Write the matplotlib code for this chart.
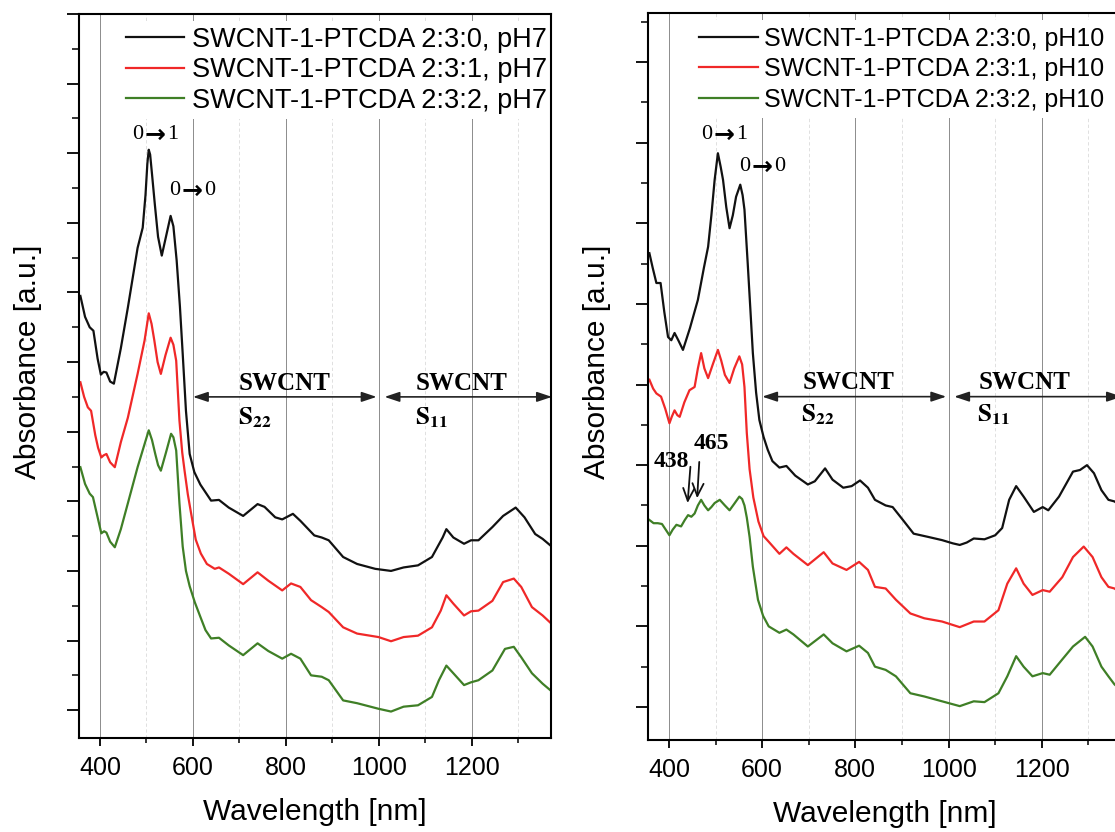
import numpy as np
import matplotlib
matplotlib.use("Agg")
import matplotlib.pyplot as plt
from matplotlib.ticker import MultipleLocator

plt.rcParams['font.family'] = ['Liberation Sans', 'DejaVu Sans']
plt.rcParams['mathtext.fontset'] = 'stix'

# ---- data (wavelength nm, absorbance a.u. offset) ----
wl_b7 = [358, 368, 378, 386, 395, 402, 408, 414, 422, 430, 445, 460, 481, 492, 498, 502, 505, 508, 512, 518, 525, 533,
         542, 552, 558, 565, 572, 578, 585, 593, 603, 616, 639, 656, 677, 708, 739, 754, 777, 792, 815, 831,
         861, 877, 892, 923, 953, 992, 1026, 1053, 1084, 1114, 1137, 1145, 1160, 1183, 1198, 1214, 1244, 1267,
         1294, 1313, 1336, 1352, 1368]
ab_b7 = [5.95, 5.65, 5.50, 5.45, 5.05, 4.82, 4.86, 4.85, 4.72, 4.69, 5.20, 5.78, 6.64, 6.93, 7.40, 7.85, 8.05, 7.98, 7.70, 7.27, 6.80, 6.53,
         6.80, 7.10, 6.95, 6.46, 5.80, 5.12, 4.30, 3.68, 3.42, 3.24, 3.01, 3.02, 2.91, 2.79, 2.96, 2.92, 2.77, 2.74, 2.82, 2.72,
         2.51, 2.48, 2.44, 2.20, 2.10, 2.03, 2.00, 2.05, 2.08, 2.20, 2.48, 2.60, 2.48, 2.39, 2.44, 2.44, 2.63, 2.79,
         2.91, 2.77, 2.53, 2.46, 2.37]

wl_r7 = [358, 366, 374, 381, 390, 396, 403, 408, 414, 422, 432, 445, 460, 481, 496, 505, 511, 517, 524, 531,
         541, 552, 558, 564, 571, 577, 582, 589, 596, 606, 617, 630, 647, 656, 677, 708, 739, 762, 792, 811,
         831, 854, 877, 892, 923, 953, 999, 1026, 1053, 1084, 1114, 1133, 1145, 1160, 1183, 1198, 1214, 1244,
         1267, 1290, 1306, 1329, 1352, 1368]
ab_r7 = [4.71, 4.50, 4.35, 4.30, 3.95, 3.77, 3.63, 3.66, 3.68, 3.56, 3.49, 3.85, 4.20, 4.83, 5.31, 5.70, 5.55, 5.31, 5.00, 4.83,
         5.10, 5.35, 5.25, 5.02, 4.16, 3.70, 3.44, 3.10, 2.83, 2.45, 2.25, 2.10, 2.03, 2.05, 1.96, 1.81, 1.98, 1.86, 1.72, 1.82,
         1.77, 1.58, 1.48, 1.41, 1.19, 1.10, 1.05, 0.99, 1.05, 1.07, 1.19, 1.43, 1.65, 1.53, 1.36, 1.42, 1.43, 1.57,
         1.84, 1.89, 1.77, 1.48, 1.36, 1.26]

wl_g7 = [358, 368, 378, 385, 394, 403, 409, 414, 422, 432, 445, 460, 481, 495, 505, 512, 519, 525, 531, 542,
         553, 558, 564, 571, 578, 585, 593, 604, 616, 627, 639, 656, 677, 708, 739, 762, 792, 811, 831, 854,
         877, 892, 923, 953, 999, 1026, 1053, 1084, 1114, 1129, 1145, 1160, 1183, 1198, 1214, 1244, 1271, 1290,
         1306, 1329, 1352, 1368]
ab_g7 = [3.49, 3.25, 3.11, 3.06, 2.80, 2.54, 2.57, 2.55, 2.42, 2.34, 2.60, 2.97, 3.49, 3.80, 4.02, 3.88, 3.68, 3.52, 3.44, 3.70,
         3.97, 3.92, 3.73, 2.97, 2.35, 2.00, 1.78, 1.55, 1.34, 1.15, 1.03, 1.04, 0.93, 0.79, 0.96, 0.85, 0.74, 0.81, 0.74, 0.50,
         0.48, 0.43, 0.14, 0.10, 0.02, -0.02, 0.05, 0.07, 0.19, 0.43, 0.64, 0.53, 0.36, 0.40, 0.43, 0.57, 0.88, 0.91,
         0.76, 0.53, 0.38, 0.29]

wl_b10 = [358, 365, 373, 382, 390, 398, 405, 412, 420, 430, 445, 462, 475, 484, 491, 498, 505, 511, 516, 523,
          530, 537, 544, 553, 558, 562, 569, 575, 580, 587, 594, 603, 612, 622, 637, 652, 671, 698, 713, 735,
          751, 774, 792, 810, 827, 842, 865, 880, 902, 925, 956, 986, 1009, 1024, 1039, 1054, 1077, 1100, 1115,
          1130, 1145, 1161, 1183, 1202, 1214, 1237, 1267, 1282, 1297, 1312, 1328, 1343, 1356, 1368]
ab_b10 = [5.63, 5.45, 5.26, 5.26, 4.90, 4.59, 4.55, 4.64, 4.55, 4.43, 4.70, 5.05, 5.45, 5.71, 6.10, 6.54, 6.87, 6.70, 6.54, 6.20,
          5.94, 6.10, 6.33, 6.48, 6.35, 6.17, 5.50, 4.90, 4.39, 3.90, 3.56, 3.35, 3.19, 3.05, 2.97, 2.99, 2.87, 2.76, 2.80, 2.96,
          2.82, 2.72, 2.74, 2.81, 2.72, 2.57, 2.50, 2.48, 2.32, 2.15, 2.11, 2.07, 2.03, 2.01, 2.04, 2.09, 2.08, 2.13, 2.22,
          2.57, 2.74, 2.61, 2.42, 2.48, 2.44, 2.61, 2.92, 2.94, 3.00, 2.90, 2.69, 2.57, 2.55, 2.50]

wl_r10 = [358, 366, 373, 383, 392, 401, 406, 412, 418, 423, 433, 444, 455, 462, 469, 476, 484, 494, 505, 512,
          520, 530, 540, 551, 557, 562, 567, 573, 581, 592, 603, 614, 637, 652, 667, 698, 732, 751, 781, 808,
          827, 842, 865, 887, 918, 948, 986, 1024, 1054, 1077, 1107, 1126, 1145, 1161, 1180, 1202, 1217, 1244,
          1267, 1290, 1309, 1328, 1343, 1356, 1368]
ab_r10 = [4.06, 3.95, 3.89, 3.85, 3.70, 3.52, 3.60, 3.68, 3.62, 3.60, 3.78, 3.93, 3.97, 4.20, 4.39, 4.20, 4.08, 4.25, 4.43, 4.30,
          4.12, 4.02, 4.20, 4.35, 4.25, 3.97, 3.40, 2.95, 2.60, 2.30, 2.12, 2.05, 1.90, 1.98, 1.90, 1.76, 1.92, 1.78, 1.70, 1.80,
          1.70, 1.49, 1.47, 1.33, 1.16, 1.10, 1.06, 0.99, 1.06, 1.06, 1.20, 1.53, 1.72, 1.53, 1.39, 1.45, 1.43, 1.61,
          1.86, 1.99, 1.86, 1.61, 1.49, 1.47, 1.42]

wl_g10 = [358, 367, 376, 385, 393, 401, 408, 416, 426, 434, 441, 448, 455, 462, 469, 476, 484, 491, 498, 509,
          520, 530, 540, 551, 557, 562, 567, 573, 580, 591, 602, 614, 637, 652, 667, 698, 732, 751, 781, 808,
          827, 842, 865, 887, 918, 948, 986, 1024, 1054, 1077, 1107, 1126, 1145, 1161, 1180, 1202, 1217, 1244,
          1267, 1293, 1309, 1328, 1343, 1356, 1368]
ab_g10 = [2.32, 2.28, 2.28, 2.27, 2.20, 2.13, 2.20, 2.26, 2.24, 2.32, 2.38, 2.36, 2.40, 2.50, 2.57, 2.50, 2.44, 2.48, 2.53, 2.57,
          2.50, 2.44, 2.52, 2.61, 2.58, 2.50, 2.35, 2.11, 1.74, 1.33, 1.13, 1.00, 0.92, 0.96, 0.90, 0.75, 0.90, 0.79, 0.69, 0.76,
          0.67, 0.50, 0.46, 0.38, 0.17, 0.13, 0.07, 0.01, 0.07, 0.06, 0.17, 0.38, 0.63, 0.50, 0.38, 0.42, 0.40, 0.59,
          0.75, 0.87, 0.75, 0.50, 0.38, 0.28, 0.22]

labels7 = ['SWCNT-1-PTCDA 2:3:0, pH7', 'SWCNT-1-PTCDA 2:3:1, pH7', 'SWCNT-1-PTCDA 2:3:2, pH7']
labels10 = ['SWCNT-1-PTCDA 2:3:0, pH10', 'SWCNT-1-PTCDA 2:3:1, pH10', 'SWCNT-1-PTCDA 2:3:2, pH10']
colors = ['#111111', '#f02828', '#3f7f26']

fig = plt.figure(figsize=(11.15, 8.32), dpi=100)
ax1 = fig.add_axes([79/1115, 94/832, 472/1115, 724/832])
ax2 = fig.add_axes([648/1115, 92/832, 473/1115, 727/832])

serif = ['Liberation Serif', 'DejaVu Serif']


def style(ax, ylim):
    ax.set_xlim(355, 1370)
    ax.set_ylim(*ylim)
    ax.xaxis.set_major_locator(MultipleLocator(200))
    ax.xaxis.set_minor_locator(MultipleLocator(100))
    ax.yaxis.set_major_locator(MultipleLocator(1))
    ax.yaxis.set_minor_locator(MultipleLocator(0.5))
    ax.set_xticks([400, 600, 800, 1000, 1200])
    ax.tick_params(axis='x', which='major', direction='out', length=6, width=1.3, labelsize=18, pad=7)
    ax.tick_params(axis='x', which='minor', direction='out', length=3.5, width=1.1)
    ax.tick_params(axis='y', which='major', direction='out', length=8.5, width=1.3, labelleft=False)
    ax.tick_params(axis='y', which='minor', direction='out', length=5, width=1.1)
    ax.grid(axis='x', which='major', color='#8c8c8c', lw=0.7)
    ax.grid(axis='x', which='minor', color='#dadada', lw=0.6, ls=(0, (4, 3)))
    for s in ax.spines.values():
        s.set_linewidth(1.5)
        s.set_zorder(6)
    ax.set_xlabel('Wavelength [nm]', fontsize=21.5, labelpad=13)
    ax.set_ylabel('Absorbance [a.u.]', fontsize=21.5)
    ax.yaxis.set_label_coords(-0.078, 0.52)


style(ax1, (-0.4, 10.0))
style(ax2, (-0.41, 8.61))

for wl, ab, c, lab in zip([wl_b7, wl_r7, wl_g7], [ab_b7, ab_r7, ab_g7], colors, labels7):
    ax1.plot(wl, ab, color=c, lw=1.6, label=lab)
for wl, ab, c, lab in zip([wl_b10, wl_r10, wl_g10], [ab_b10, ab_r10, ab_g10], colors, labels10):
    ax2.plot(wl, ab, color=c, lw=1.6, label=lab)

ax1.legend(loc='upper left', bbox_to_anchor=(0.088, 0.99), frameon=True, facecolor='white',
           edgecolor='none', framealpha=1, fontsize=19.5, handlelength=2.15, handletextpad=0.3,
           labelspacing=0.17, borderpad=0.2, borderaxespad=0)
ax2.legend(loc='upper left', bbox_to_anchor=(0.094, 0.99), frameon=True, facecolor='white',
           edgecolor='none', framealpha=1, fontsize=18, handlelength=2.36, handletextpad=0.24,
           labelspacing=0.26, borderpad=0.25, borderaxespad=0)


def transition(ax, x, y, a, b):
    # "a -> b" label: serif digits around a bold arrow
    ax.annotate('→', (x, y), ha='center', va='center', fontsize=18, family='DejaVu Sans',
                weight='bold')
    ax.annotate(a, (x, y), xytext=(-8.5, 0), textcoords='offset points', ha='right', va='center',
                fontsize=16, family=serif)
    ax.annotate(b, (x, y), xytext=(8.5, 0), textcoords='offset points', ha='left', va='center',
                fontsize=16, family=serif)


transition(ax1, 519, 8.27, '0', '1')
transition(ax1, 598, 7.46, '0', '0')
transition(ax2, 519, 7.10, '0', '1')
transition(ax2, 600, 6.70, '0', '0')

# SWCNT band ranges
arr = dict(arrowstyle='<|-|>,head_length=0.9,head_width=0.3', color='#222222', lw=1.2,
           shrinkA=0, shrinkB=0)
for ax, ya, yt, ys, x1, x2, x3, xs in [(ax1, 4.50, 4.69, 4.20, 797, 1178, 733, 1112),
                                       (ax2, 3.85, 4.02, 3.62, 785, 1164, 719, 1097)]:
    ax.annotate('', xy=(600, ya), xytext=(995, ya), arrowprops=arr, annotation_clip=False)
    ax.annotate('', xy=(1012, ya), xytext=(1372, ya), arrowprops=arr, annotation_clip=False)
    ax.text(x1, yt, 'SWCNT', fontsize=18, family=serif, weight='bold', ha='center', va='center')
    ax.text(x2, yt, 'SWCNT', fontsize=18, family=serif, weight='bold', ha='center', va='center')
    ax.text(x3, ys, r'$\mathbf{S_{22}}$', fontsize=18, ha='center', va='center')
    ax.text(xs, ys, r'$\mathbf{S_{11}}$', fontsize=18, ha='center', va='center')

# 438 / 465 markers
ax2.text(404, 3.04, '438', fontsize=17, family=serif, weight='bold', ha='center', va='center')
ax2.text(491, 3.27, '465', fontsize=17, family=serif, weight='bold', ha='center', va='center')
down = dict(arrowstyle='->,head_length=0.9,head_width=0.4', color='#111111', lw=1.3, shrinkA=0, shrinkB=0)
ax2.annotate('', xy=(440, 2.53), xytext=(446, 2.98), arrowprops=down)
ax2.annotate('', xy=(460.5, 2.59), xytext=(465, 3.04), arrowprops=down)

fig.savefig('out.png', dpi=100)
